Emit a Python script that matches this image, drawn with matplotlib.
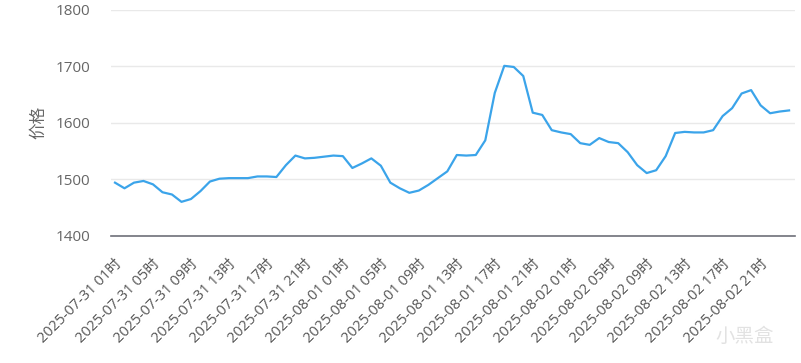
import matplotlib
matplotlib.use("Agg")
import matplotlib.pyplot as plt

plt.rcParams['font.family'] = ['Open Sans', 'Noto Sans CJK SC', 'DejaVu Sans']

# hourly price, 2025-07-31 01时 .. 2025-08-03 00时
prices = [
    1494, 1484, 1494, 1497, 1491, 1477, 1473, 1460, 1465, 1479,
    1496, 1501, 1502, 1502, 1502, 1505, 1505, 1504, 1525, 1542,
    1537, 1538, 1540, 1542, 1541, 1520, 1528, 1537, 1524, 1494,
    1484, 1476, 1480, 1490, 1502, 1514, 1543, 1542, 1543, 1569,
    1653, 1701, 1699, 1683, 1618, 1614, 1587, 1583, 1580, 1564,
    1561, 1573, 1566, 1564, 1548, 1525, 1511, 1516, 1541, 1582,
    1584, 1583, 1583, 1587, 1612, 1626, 1652, 1658, 1631, 1617,
    1620, 1622,
]
tick_labels = [
    "2025-07-31 01时", "2025-07-31 05时", "2025-07-31 09时", "2025-07-31 13时",
    "2025-07-31 17时", "2025-07-31 21时", "2025-08-01 01时", "2025-08-01 05时",
    "2025-08-01 09时", "2025-08-01 13时", "2025-08-01 17时", "2025-08-01 21时",
    "2025-08-02 01时", "2025-08-02 05时", "2025-08-02 09时", "2025-08-02 13时",
    "2025-08-02 17时", "2025-08-02 21时",
]
y_ticks = [1400, 1500, 1600, 1700, 1800]

fig = plt.figure(figsize=(8.01, 3.63), dpi=100)
ax = fig.add_axes([0.1386, 0.3507, 0.854, 0.6218])

x = list(range(len(prices)))
ax.plot(x, prices, color='#3ba4ea', lw=1.6, solid_joinstyle='round', zorder=3)

ax.set_xlim(-0.42, 71.63)
ax.set_ylim(1400, 1800)
ax.set_yticks(y_ticks)
ax.set_yticklabels([str(v) for v in y_ticks], fontsize=11, color='#666666')
ax.grid(axis='y', color='#e9e9e9', lw=1)
ax.set_axisbelow(True)

ax.set_xticks(range(0, 72, 4))
ax.set_xticklabels(tick_labels, rotation=45, ha='right', va='top',
                   rotation_mode='anchor', fontsize=10.5, color='#555555')
ax.tick_params(axis='x', length=0, pad=15)
ax.tick_params(axis='y', length=0, pad=15)

for s in ['top', 'right', 'left']:
    ax.spines[s].set_visible(False)
ax.spines['bottom'].set_color('#6e7079')
ax.spines['bottom'].set_linewidth(1.2)

ax.set_ylabel('价格', fontsize=12, color='#666666', labelpad=6)

fig.text(0.93, 0.072, '小黑盒', fontsize=14, color='#e2e2e2', ha='center', va='center')

fig.savefig('out.png', dpi=100)
